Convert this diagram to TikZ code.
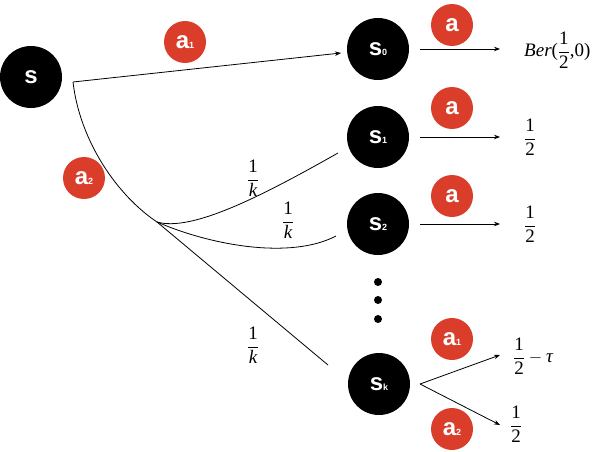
\documentclass[tikz,border=0pt]{standalone}
\usepackage{amsmath}
\usepackage{fontspec}
\setmainfont{Liberation Serif}
\newfontfamily\hv{Liberation Sans}
\usetikzlibrary{arrows.meta}
\definecolor{myred}{RGB}{218,62,42}
\newcommand\lowsub[1]{{\fontsize{9}{9}\selectfont #1}}
\newcommand\fr[2]{\dfrac{\textrm{#1}}{#2}}
\begin{document}
\begin{tikzpicture}[x=1pt,y=-1pt,
  blk/.style={circle,fill=black,minimum size=62pt,inner sep=0pt,text=white,font=\hv\bfseries\fontsize{24}{24}\selectfont},
  rd/.style={circle,fill=myred,minimum size=42pt,inner sep=0pt,text=white,font=\hv\bfseries\fontsize{24}{24}\selectfont},
  lbl/.style={inner sep=0pt,font=\fontsize{19}{22}\selectfont},
  ln/.style={line width=0.8pt},
  arr/.style={ln,-{Stealth[length=6pt,width=4.5pt]}},
  dot/.style={circle,fill=black,minimum size=8pt,inner sep=0pt}]
\useasboundingbox (0,0) rectangle (594,452);
% states
\node[blk] (s) at (31,77) {s};
\node[blk] (s0) at (378,49) {s\lowsub{0}};
\node[blk] (s1) at (378,137) {s\lowsub{1}};
\node[blk] (s2) at (378,224) {s\lowsub{2}};
\node[blk] (sk) at (379,384) {s\lowsub{k}};
\node[dot] (d1) at (378,282) {};
\node[dot] (d2) at (378,300) {};
\node[dot] (d3) at (378,319) {};
% actions
\node[rd] (ra1) at (185,42) {a\lowsub{1}};
\node[rd] (ra2) at (84,178) {a\lowsub{2}};
\node[rd] (r0) at (452,25) {a};
\node[rd] (r1) at (452,108) {a};
\node[rd] (r2) at (452,196) {a};
\node[rd] (rk1) at (452,339) {a\lowsub{1}};
\node[rd] (rk2) at (452,429) {a\lowsub{2}};
% outcomes
\node[lbl,anchor=west] (ber) at (524,50) {\textit{Ber}($\fr{1}{\textrm{2}}$,0)};
\node[lbl] (h1) at (530,137) {$\fr{1}{\textrm{2}}$};
\node[lbl] (h2) at (530,224) {$\fr{1}{\textrm{2}}$};
\node[lbl,anchor=west] (ht) at (513,356) {$\fr{1}{\textrm{2}}-\textit{τ}$};
\node[lbl] (hb) at (516,424) {$\fr{1}{\textrm{2}}$};
% probabilities
\node[lbl] (k1) at (253,178) {$\fr{1}{\textit{k}}$};
\node[lbl] (k2) at (288,220) {$\fr{1}{\textit{k}}$};
\node[lbl] (k3) at (253,345) {$\fr{1}{\textit{k}}$};
% coordinates
\coordinate (so) at (73,82);
\coordinate (b) at (157,222);
\coordinate (s0in) at (341,53);
\coordinate (s1in) at (338,153);
\coordinate (s2in) at (336,236);
\coordinate (skin) at (328,365);
\coordinate (o0) at (420,49);
\coordinate (t0) at (500,49);
\coordinate (o1) at (420,137);
\coordinate (t1) at (500,137);
\coordinate (o2) at (420,224);
\coordinate (t2) at (500,224);
\coordinate (ok) at (420,384);
\coordinate (tk1) at (500,355);
\coordinate (tk2) at (500,425);
% connectors
\draw[arr] (so) -- (s0in);
\draw[ln] (so) .. controls (80,142) and (118,196) .. (b);
\draw[ln] (b) .. controls (192,232) and (262,196) .. (s1in);
\draw[ln] (b) .. controls (210,245) and (290,260) .. (s2in);
\draw[ln] (b) -- (skin);
\draw[arr] (o0) -- (t0);
\draw[arr] (o1) -- (t1);
\draw[arr] (o2) -- (t2);
\draw[arr] (ok) -- (tk1);
\draw[arr] (ok) -- (tk2);
\end{tikzpicture}
\end{document}
